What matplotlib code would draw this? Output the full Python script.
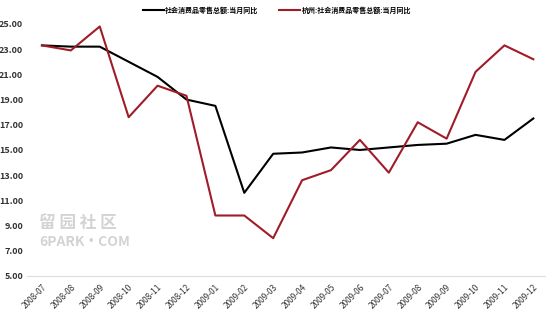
import matplotlib.pyplot as plt
import numpy as np

plt.rcParams['font.family'] = ['Noto Sans CJK SC', 'DejaVu Sans']

months = ['2008-07', '2008-08', '2008-09', '2008-10', '2008-11', '2008-12',
          '2009-01', '2009-02', '2009-03', '2009-04', '2009-05', '2009-06',
          '2009-07', '2009-08', '2009-09', '2009-10', '2009-11', '2009-12']
national = [23.3, 23.2, 23.2, 22.0, 20.8, 19.0, 18.5, 11.6, 14.7, 14.8, 15.2, 15.0,
            15.2, 15.4, 15.5, 16.2, 15.8, 17.5]
hangzhou = [23.3, 22.9, 24.8, 17.6, 20.1, 19.3, 9.8, 9.8, 8.0, 12.6, 13.4, 15.8,
            13.2, 17.2, 15.9, 21.2, 23.3, 22.2]
yticks = [5, 7, 9, 11, 13, 15, 17, 19, 21, 23, 25]

fig = plt.figure(figsize=(5.54, 3.10), dpi=100)
ax = fig.add_axes([0.0496, 0.1097, 0.934, 0.813])
x = np.arange(len(months))
ax.plot(x, national, color='black', lw=1.5, label='社会消费品零售总额:当月同比', clip_on=False)
ax.plot(x, hangzhou, color='#a01c28', lw=1.5, label='杭州:社会消费品零售总额:当月同比', clip_on=False)

ax.set_xlim(-0.5, 17.4)
ax.set_ylim(5, 25)
ax.set_yticks(yticks)
ax.set_yticklabels(['%.2f' % v for v in yticks], fontsize=6.5, fontweight='bold', color='#333333')
ax.set_xticks(x)
ax.set_xticklabels(months, rotation=45, ha='right', rotation_mode='anchor', fontsize=6, color='#333333')
ax.tick_params(axis='y', length=0, pad=3)
ax.tick_params(axis='x', length=0, pad=5)
for s in ['top', 'right', 'left']:
    ax.spines[s].set_visible(False)
ax.spines['bottom'].set_color('#dddddd')

leg = fig.legend(loc='upper center', bbox_to_anchor=(0.5, 1.0), ncol=2, frameon=False,
                 fontsize=5, handlelength=3, columnspacing=3, handletextpad=0.2)
for t in leg.get_texts():
    t.set_fontweight('bold')

# watermark, kept just right of the y tick labels
fig.text(0.07, 0.265, '留 园 社 区', fontsize=12, color='#cccccc', fontweight='bold', alpha=0.85)
fig.text(0.07, 0.205, '6PARK·COM', fontsize=10, color='#cccccc', fontweight='bold', alpha=0.85)

plt.savefig('out.png', dpi=100)
